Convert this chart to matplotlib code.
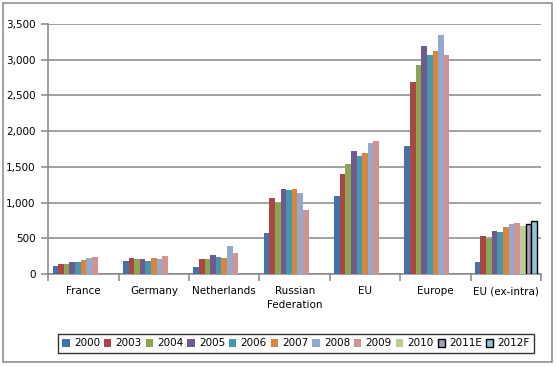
import matplotlib as mpl
import matplotlib.pyplot as plt
import numpy as np
from matplotlib.patches import Rectangle

mpl.use("Agg")

# %%
categories = ["France", "Germany", "Netherlands", "Russian\nFederation",
              "EU", "Europe", "EU (ex-intra)"]

years = ["2000", "2003", "2004", "2005", "2006", "2007",
         "2008", "2009", "2010", "2011E", "2012F"]

# one list per year, values for each category (None = no bar)
v2000 = [115, 185, 101, 574, 1097, 1792, 167]
v2003 = [143, 226, 213, 1060, 1403, 2681, 528]
v2004 = [143, 213, 213, 991, 1542, 2931, 486]
v2005 = [171, 213, 268, 1186, 1722, 3195, 597]
v2006 = [171, 185, 240, 1172, 1653, 3070, 583]
v2007 = [199, 226, 226, 1186, 1695, 3125, 653]
v2008 = [226, 213, 393, 1130, 1834, 3348, 694]
v2009 = [240, 254, 296, 894, 1861, 3070, 708]
v2010 = [None, None, None, None, None, None, 667]
v2011e = [None, None, None, None, None, None, 704]
v2012f = [None, None, None, None, None, None, 736]

series = [v2000, v2003, v2004, v2005, v2006, v2007,
          v2008, v2009, v2010, v2011e, v2012f]

colors = ["#4672AA", "#AA4643", "#8AA64F", "#71588F", "#4198AF", "#DB843D",
          "#93A9CF", "#D19392", "#B9CD96", "#A99BBD", "#92C3D3"]

# %%
plt.rcParams["font.family"] = "DejaVu Sans"
plt.rcParams["font.size"] = 7.5

fig = plt.figure(figsize=(5.56, 3.66), dpi=100)
ax = fig.add_axes([48.3 / 556, 1 - 274 / 366, (541 - 48.3) / 556, 250 / 366])

x = np.arange(len(categories))
w = 1 / 12.5
handles = []
for i, (vals, yr, c) in enumerate(zip(series, years, colors)):
    y = np.array([np.nan if v is None else v for v in vals], dtype=float)
    edge = "black" if yr in ("2011E", "2012F") else "none"
    lw = 1.0 if edge == "black" else 0
    ax.bar(x - 0.4 + w * i, y, width=w, color=c, edgecolor=edge, linewidth=lw, zorder=3)
    handles.append(Rectangle((0, 0), 1, 1, facecolor=c, edgecolor=edge, linewidth=lw))

ax.set_xlim(-0.5, len(categories) - 0.5)
ax.set_ylim(0, 3500)
ax.set_yticks(np.arange(0, 3501, 500))
ax.set_yticklabels([f"{t:,}" for t in range(0, 3501, 500)])
ax.yaxis.grid(True, color="#868686", linewidth=1.1, zorder=0)

ax.set_xticks(x)
ax.set_xticklabels(categories, linespacing=1.5)
ax.set_xticks(np.arange(-0.5, len(categories)), minor=True)
ax.tick_params(axis="x", which="major", length=0, pad=9)
ax.tick_params(axis="x", which="minor", length=5, color="#868686", width=1.1)
ax.tick_params(axis="y", length=5, color="#868686", width=1.1, pad=4)

for s in ["top", "right"]:
    ax.spines[s].set_visible(False)
for s in ["left", "bottom"]:
    ax.spines[s].set_color("#868686")
    ax.spines[s].set_linewidth(1.1)

leg = fig.legend(handles, years, loc="center", ncol=11,
                 bbox_to_anchor=(53 / 556, 1 - 355 / 366, 486 / 556, 23 / 366),
                 mode="expand", frameon=True, fancybox=False,
                 handlelength=0.7, handleheight=0.7, handletextpad=0.4,
                 columnspacing=0.6, borderpad=0.4, fontsize=7.5)
leg.get_frame().set_edgecolor("black")
leg.get_frame().set_linewidth(1.0)

# outer chart border
fig.patches.append(Rectangle((2.5 / 556, 1 - 362 / 366), 549 / 556, 359 / 366,
                             transform=fig.transFigure, fill=False,
                             edgecolor="#868686", linewidth=1.1))

fig.savefig("out.png", dpi=100)
